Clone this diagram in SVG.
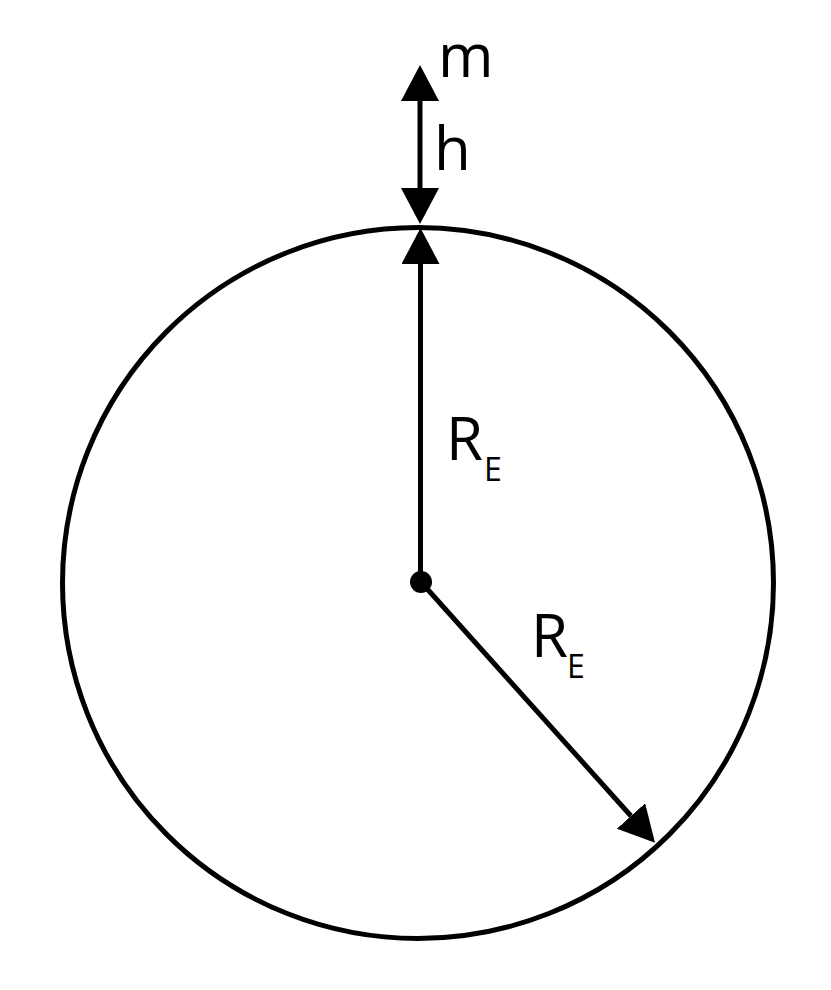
<svg xmlns="http://www.w3.org/2000/svg" width="831" height="990" viewBox="0 0 831 990">
  <style>
    .ln { stroke: #000; stroke-width: 5; fill: none; }
    .lbl { font-family: "Open Sans", "DejaVu Sans", sans-serif; fill: #000; }
    .big { font-size: 60px; }
    .sub { font-size: 32px; }
  </style>
  <defs>
    <marker id="ah" markerUnits="userSpaceOnUse" markerWidth="36" markerHeight="38" refX="0" refY="19" orient="auto-start-reverse" viewBox="0 0 36 38">
      <path d="M0,0 L36,19 L0,38 Z" fill="#000"/>
    </marker>
  </defs>
  <rect width="831" height="990" fill="#fff"/>
  <g id="earth">
    <circle cx="418" cy="583" r="355.5" class="ln"/>
  </g>
  <g id="center">
    <circle cx="421" cy="582" r="11" fill="#000"/>
  </g>
  <g id="connectors">
    <line x1="420" y1="101" x2="420" y2="188" class="ln" marker-start="url(#ah)" marker-end="url(#ah)"/>
    <line x1="420.5" y1="582" x2="420.5" y2="264" class="ln" marker-end="url(#ah)"/>
    <line x1="421" y1="582" x2="631" y2="816" class="ln" marker-end="url(#ah)"/>
  </g>
  <g id="labels">
    <text x="438" y="77" class="lbl big">m</text>
    <text x="434" y="170" class="lbl big">h</text>
    <text x="446" y="460" class="lbl big">R</text>
    <text x="484" y="481" class="lbl sub">E</text>
    <text x="531" y="657" class="lbl big">R</text>
    <text x="567" y="678" class="lbl sub">E</text>
  </g>
</svg>
